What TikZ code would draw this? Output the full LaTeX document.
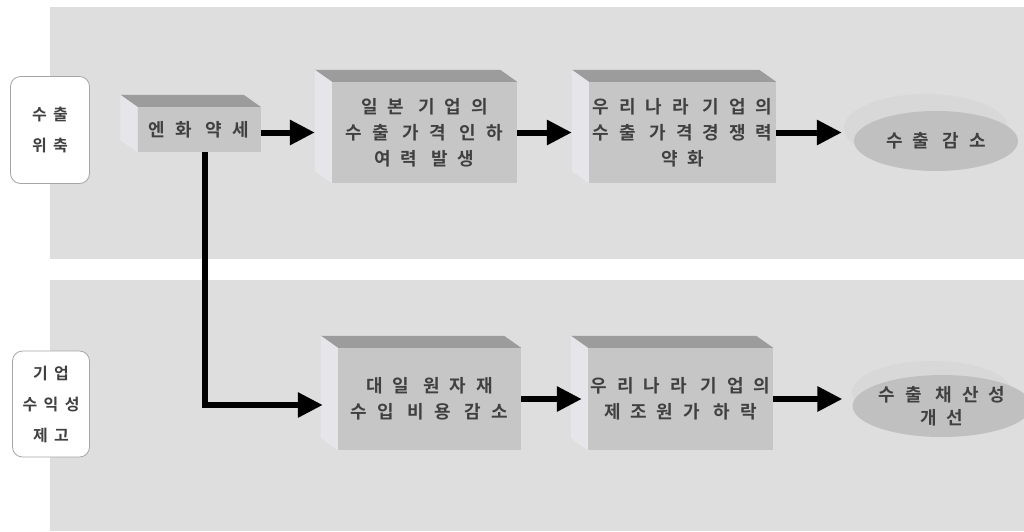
\documentclass[tikz,border=0pt]{standalone}
\usepackage{fontspec}
\setmainfont{Noto Sans CJK KR}[LetterSpace=55,BoldFont={* Bold}]
\newfontfamily\krside{Noto Sans CJK KR}[LetterSpace=40,BoldFont={* Bold}]
\usetikzlibrary{arrows.meta,calc,shapes.geometric}
\definecolor{band}{HTML}{DEDEDE}
\definecolor{front}{HTML}{C6C6C6}
\definecolor{topf}{HTML}{9C9C9C}
\definecolor{leftf}{HTML}{E6E6EA}
\definecolor{txt}{HTML}{404040}
\definecolor{discback}{HTML}{D8D8D8}
\definecolor{discfront}{HTML}{C0C0C0}
\tikzset{
  cubefront/.style={rectangle, fill=front, inner sep=0pt, align=center, text=txt,
    font=\fontsize{18}{26}\selectfont\bfseries},
  sidelabel/.style={rectangle, rounded corners=10pt, draw=gray!70, line width=0.8pt,
    fill=white, inner sep=0pt, align=center, text=txt, font=\krside\fontsize{16}{31}\selectfont\bfseries},
  disc/.style={ellipse, fill=discfront, inner sep=0pt, align=center, text=txt,
    font=\fontsize{18}{23}\selectfont\bfseries},
  flow/.style={line width=6pt, -{Triangle[length=25pt,width=24pt]}},
}
\newcommand{\cubefaces}[1]{%
  \fill[topf] (#1.north west) -- ++(-17,-12) -- ($(#1.north east)+(-17,-12)$) -- (#1.north east) -- cycle;
  \fill[leftf] (#1.north west) -- ++(-17,-12) -- ($(#1.south west)+(-17,-12)$) -- (#1.south west) -- cycle;
}
\begin{document}
\begin{tikzpicture}[x=1pt,y=-1pt]
\useasboundingbox (0,0) rectangle (1024,531);
\fill[white] (0,0) rectangle (1024,531);
% bands
\fill[band] (50,7) rectangle (1024,259);
\fill[band] (50,280) rectangle (1024,531);
% side labels
\node[sidelabel, minimum width=79pt, minimum height=107pt] (s1) at (50,130) {수출\\위축};
\node[sidelabel, minimum width=77pt, minimum height=106pt] (s2) at (51,404) {기업\\수익성\\제고};
% cubes (front faces)
\node[cubefront, minimum width=123pt, minimum height=45pt] (c1) at (199,129.5) {엔화 약세};
\node[cubefront, minimum width=185pt, minimum height=101pt] (c2) at (424.5,132.5) {일본 기업의\\수출 가격 인하\\여력 발생};
\node[cubefront, minimum width=187pt, minimum height=101pt] (c3) at (682.5,132.5) {우리나라 기업의\\수출 가격경쟁력\\약화};
\node[cubefront, minimum width=183pt, minimum height=102pt] (c4) at (429.5,399) {대일 원자재\\수입 비용 감소};
\node[cubefront, minimum width=185pt, minimum height=102pt] (c5) at (680.5,399) {우리나라 기업의\\제조원가 하락};
\cubefaces{c1}
\cubefaces{c2}
\cubefaces{c3}
\cubefaces{c4}
\cubefaces{c5}
% discs
\fill[discback] (926,128) ellipse [x radius=82, y radius=34];
\node[disc, minimum width=164pt, minimum height=60pt] (e1) at (936,141) {수출 감소};
\fill[discback] (932,392) ellipse [x radius=80, y radius=31];
\node[disc, minimum width=160pt, minimum height=62pt] (e2) at (942,406) {수출 채산성\\개선};
\coordinate (t0) at ($(c1.east |- c2.west)+(0,0)$);
\coordinate (t1) at ($(c3.east -| e1.west)+(-12,0)$);
\coordinate (t2) at ($(c5.east -| e2.west)+(-10,0)$);
% arrows
\draw[flow] (t0) -- ($(c2.west)+(-17,0)$);
\draw[flow] (c2.east) -- ($(c3.west)+(-17,0)$);
\draw[flow] (c3.east) -- (t1);
\draw[flow] ($(c1.south)+(6,0)$) |- ($(c4.west)+(-15,6)$);
\draw[flow] (c4.east) -- ($(c5.west)+(-6,0)$);
\draw[flow] (c5.east) -- (t2);
\end{tikzpicture}
\end{document}
